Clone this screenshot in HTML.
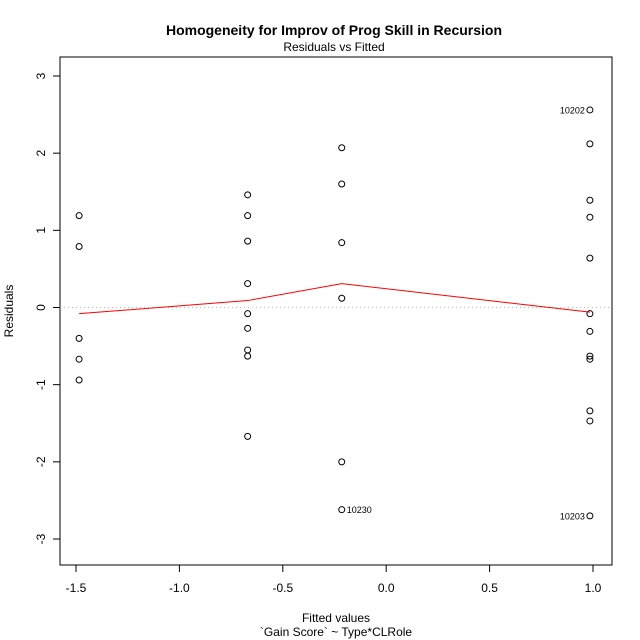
<!DOCTYPE html>
<html><head><meta charset="utf-8"><style>
html,body{margin:0;padding:0;background:#fff;}
svg{display:block;font-family:"Liberation Sans",Arial,sans-serif;}
</style></head><body>
<svg id="chart" width="640" height="640" viewBox="0 0 640 640">
<text x="334" y="35" text-anchor="middle" font-size="14" font-weight="bold">Homogeneity for Improv of Prog Skill in Recursion</text>
<text x="334" y="51" text-anchor="middle" font-size="12">Residuals vs Fitted</text>
<rect x="60" y="57" width="552" height="508" fill="none" stroke="#000" stroke-width="1"/>
<text x="336" y="622" text-anchor="middle" font-size="12">Fitted values</text>
<text x="336" y="636" text-anchor="middle" font-size="12">`Gain Score` ~ Type*CLRole</text>
<text x="0" y="0" transform="translate(13,311) rotate(-90)" text-anchor="middle" font-size="12">Residuals</text>
<g id="axes"></g>
<g id="marks"></g>
</svg>
<script>
const xTicks=[-1.5,-1.0,-0.5,0.0,0.5,1.0];
const xTickLabels=["-1.5","-1.0","-0.5","0.0","0.5","1.0"];
const yTicks=[-3,-2,-1,0,1,2,3];
const yTickLabels=["-3","-2","-1","0","1","2","3"];
const fittedX=[-1.485,-1.485,-1.485,-1.485,-1.485,
 -0.67,-0.67,-0.67,-0.67,-0.67,-0.67,-0.67,-0.67,-0.67,
 -0.215,-0.215,-0.215,-0.215,-0.215,-0.215,
 0.985,0.985,0.985,0.985,0.985,0.985,0.985,0.985,0.985,0.985,0.985,0.985];
const residualY=[1.19,0.79,-0.40,-0.67,-0.94,
 1.46,1.19,0.86,0.31,-0.08,-0.27,-0.55,-0.63,-1.67,
 2.07,1.60,0.84,0.12,-2.00,-2.62,
 2.56,2.12,1.39,1.17,0.64,-0.08,-0.31,-0.63,-0.67,-1.34,-1.47,-2.70];
const smoothX=[-1.485,-0.67,-0.215,0.985];
const smoothY=[-0.08,0.09,0.31,-0.06];
const outlierIdx=[20,19,31];
const outlierLabels=["10202","10230","10203"];
const outlierSide=[-1,1,-1];

const NS="http://www.w3.org/2000/svg";
const sx=v=>76+(v+1.5)*206.8;
const sy=v=>307.5-v*77.17;
function mk(tag,attrs,parent){const e=document.createElementNS(NS,tag);for(const k in attrs)e.setAttribute(k,attrs[k]);parent.appendChild(e);return e;}
const axes=document.getElementById('axes'),marks=document.getElementById('marks');
xTicks.forEach((t,i)=>{
 const l=mk('line',{x1:sx(t),x2:sx(t),y1:565,y2:572,stroke:'#000'},axes);
 
 
 const tx=mk('text',{x:sx(t),y:592,'text-anchor':'middle','font-size':12},axes);tx.textContent=xTickLabels[i];
 
 
});
mk('line',{x1:sx(-1.5),x2:sx(1.0),y1:565,y2:565,stroke:'#000'},axes);
yTicks.forEach((t,i)=>{
 const l=mk('line',{x1:53,x2:60,y1:sy(t),y2:sy(t),stroke:'#000'},axes);
 
 
 const tx=mk('text',{x:0,y:0,transform:`translate(45,${sy(t)}) rotate(-90)`,'text-anchor':'middle','font-size':12},axes);tx.textContent=yTickLabels[i];
 
 
});
const zl=mk('line',{x1:60,x2:612,y1:sy(0),y2:sy(0),stroke:'#bbb','stroke-dasharray':'1,3'},marks);


fittedX.forEach((x,i)=>{
 const c=mk('circle',{cx:sx(x),cy:sy(residualY[i]),r:3,fill:'none',stroke:'#000','stroke-width':1},marks);
 
 
});
const pl=mk('polyline',{points:smoothX.map((x,i)=>sx(x)+','+sy(smoothY[i])).join(' '),fill:'none',stroke:'#ff0000','stroke-width':1},marks);


outlierIdx.forEach((k,i)=>{
 const x=sx(fittedX[k])+outlierSide[i]*5,y=sy(residualY[k])+3.5;
 const t=mk('text',{x:x,y:y,'text-anchor':outlierSide[i]<0?'end':'start','font-size':9},marks);t.textContent=outlierLabels[i];
 
 
});
</script>
</body></html>
